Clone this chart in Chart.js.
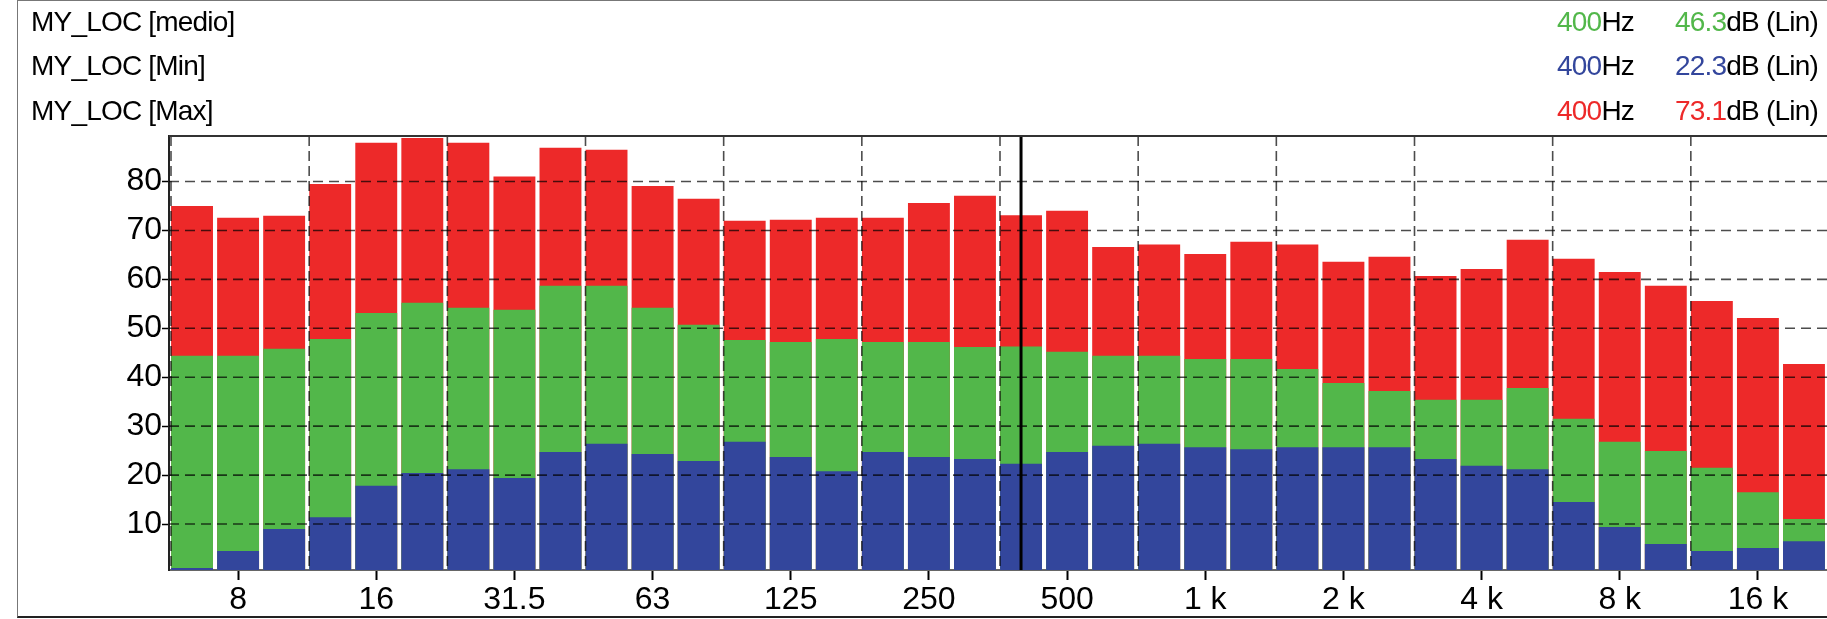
<!DOCTYPE html>
<html>
<head>
<meta charset="utf-8">
<script src="https://cdn.jsdelivr.net/npm/chart.js@4.4.1/dist/chart.umd.min.js"></script>
<style>
  html, body { margin: 0; padding: 0; background: #fff; }
  #wrap { position: relative; width: 1827px; height: 619px; overflow: hidden; font-family: 'Liberation Sans', Arial, sans-serif; }
  #c { position: absolute; left: 0; top: 0; }
  #frame { position: absolute; left: 17px; top: 0; width: 1830px; height: 618px; border: 1px solid #777; border-bottom: 2px solid #222; box-sizing: border-box; pointer-events: none; }
  .row { position: absolute; height: 30px; line-height: 30px; font-size: 28px; letter-spacing: -0.8px; color: #000; white-space: nowrap; }
  .name { left: 31px; }
  .hz { right: 193px; text-align: right; }
  .db { left: 1675px; }
</style>
</head>
<body>
<div id="wrap">
  <canvas id="c" width="1827" height="619"></canvas>
  <div id="frame"></div>
  <div id="header"></div>
</div>
<script>
// 1/3-octave band centre frequencies
const freqs = ['6.3','8','10','12.5','16','20','25','31.5','40','50','63','80','100','125','160','200','250','315','400','500','630','800','1 k','1.25 k','1.6 k','2 k','2.5 k','3.15 k','4 k','5 k','6.3 k','8 k','10 k','12.5 k','16 k','20 k'];
// MY_LOC [Max] (dB)
const maxVals = [75.0,72.6,73.0,79.5,87.9,88.9,87.9,81.0,86.9,86.5,79.1,76.5,72.0,72.2,72.6,72.6,75.6,77.1,73.1,74.0,66.6,67.1,65.2,67.7,67.1,63.6,64.6,60.7,62.1,68.1,64.2,61.5,58.7,55.6,52.1,42.7];
// MY_LOC [medio] (dB)
const meanVals = [44.4,44.4,45.8,47.8,53.1,55.2,54.2,53.8,58.7,58.7,54.2,50.7,47.6,47.2,47.8,47.2,47.2,46.2,46.3,45.2,44.4,44.4,43.7,43.7,41.7,38.8,37.2,35.4,35.4,37.8,31.5,26.8,24.9,21.5,16.5,11.0];
// MY_LOC [Min] (dB)
const minVals = [1.0,4.5,9.0,11.4,17.8,20.4,21.2,19.4,24.7,26.4,24.3,22.9,26.8,23.7,20.8,24.7,23.7,23.3,22.3,24.7,26.0,26.4,25.7,25.3,25.7,25.7,25.7,23.3,21.9,21.2,14.5,9.4,5.9,4.5,5.1,6.5];
// y tick labels
const yTicks = [10,20,30,40,50,60,70,80];
// x tick labels shown (middle band of each octave)
const xTickLabels = ['8','16','31.5','63','125','250','500','1 k','2 k','4 k','8 k','16 k'];
// cursor position
const cursorFreq = '400';
const seriesNames = ['MY_LOC [medio]','MY_LOC [Min]','MY_LOC [Max]'];

const RED = 'rgb(237,41,41)', GREEN = 'rgb(82,183,74)', BLUE = 'rgb(51,70,156)';
const cursorIdx = freqs.indexOf(cursorFreq);

// header rows
const header = document.getElementById('header');
const rows = [
  [seriesNames[0], meanVals, GREEN],
  [seriesNames[1], minVals, BLUE],
  [seriesNames[2], maxVals, RED]
];
const rowTops = [7, 51, 96];
rows.forEach((r, i) => {
  const top = rowTops[i] + 'px';
  const n = document.createElement('div');
  n.className = 'row name'; n.style.top = top; n.textContent = r[0];
  header.appendChild(n);
  const hz = document.createElement('div');
  hz.className = 'row hz'; hz.style.top = top;
  hz.innerHTML = '<span style="color:' + r[2] + '">' + cursorFreq + '</span>Hz';
  header.appendChild(hz);
  const db = document.createElement('div');
  db.className = 'row db'; db.style.top = top;
  db.innerHTML = '<span style="color:' + r[2] + '">' + r[1][cursorIdx].toFixed(1) + '</span>dB (Lin)';
  header.appendChild(db);
});

const overlay = {
  id: 'overlay',
  afterDatasetsDraw(chart) {
    const ctx = chart.ctx, a = chart.chartArea;
    const xs = chart.scales.x, ys = chart.scales.y;
    ctx.save();
    ctx.beginPath(); ctx.rect(a.left, a.top, a.right - a.left, a.bottom - a.top); ctx.clip();
    ctx.strokeStyle = 'rgba(0,0,0,0.7)';
    ctx.lineWidth = 1.6;
    ctx.setLineDash([10, 6]);
    yTicks.forEach(v => {
      const y = ys.getPixelForValue(v);
      ctx.beginPath(); ctx.moveTo(a.left, y); ctx.lineTo(a.right, y); ctx.stroke();
    });
    const catW = (a.right - a.left) / freqs.length;
    ctx.setLineDash([10, 5]);
    for (let k = 0; k <= freqs.length; k += 3) {
      const x = a.left + 2 + k * catW;
      ctx.beginPath(); ctx.moveTo(x, a.top); ctx.lineTo(x, a.bottom); ctx.stroke();
    }
    ctx.setLineDash([]);
    // cursor
    const cx = xs.getPixelForValue(cursorIdx);
    ctx.strokeStyle = '#000'; ctx.lineWidth = 3;
    ctx.beginPath(); ctx.moveTo(cx, a.top); ctx.lineTo(cx, a.bottom); ctx.stroke();
    ctx.restore();
    // top border of plot
    ctx.save();
    ctx.strokeStyle = '#333'; ctx.lineWidth = 2;
    ctx.beginPath(); ctx.moveTo(a.left, a.top); ctx.lineTo(a.right, a.top); ctx.stroke();
    ctx.restore();
  }
};

const tickFont = { family: "'Liberation Sans', Arial, sans-serif", size: 32 };

new Chart(document.getElementById('c'), {
  type: 'bar',
  data: {
    labels: freqs,
    datasets: [
      { label: seriesNames[1], data: minVals, backgroundColor: BLUE },
      { label: seriesNames[0], data: meanVals, backgroundColor: GREEN },
      { label: seriesNames[2], data: maxVals, backgroundColor: RED }
    ]
  },
  options: {
    responsive: false,
    animation: false,
    devicePixelRatio: 1,
    layout: { padding: { top: 136, left: 0, right: 0, bottom: 0 } },
    datasets: { bar: { grouped: false, barPercentage: 0.91, categoryPercentage: 1.0, borderWidth: 0 } },
    plugins: { legend: { display: false }, tooltip: { enabled: false } },
    scales: {
      x: {
        type: 'category',
        offset: true,
        grid: { display: true, drawOnChartArea: false, drawTicks: true, tickLength: 10, tickWidth: 2, tickColor: '#000', offset: false },
        border: { display: true, color: '#666', width: 2 },
        ticks: { font: tickFont, color: '#000', padding: 1, maxRotation: 0, autoSkip: false },
        afterBuildTicks(s) { s.ticks = s.ticks.filter(t => xTickLabels.includes(freqs[t.value])); },
        afterFit(s) { s.height = 49; }
      },
      y: {
        min: 0.6,
        max: 89.3,
        grid: { display: true, drawOnChartArea: false, drawTicks: true, tickLength: 7, tickWidth: 1.5, tickColor: '#000' },
        border: { display: true, color: '#222', width: 2 },
        ticks: { font: tickFont, color: '#000', padding: 0 },
        afterBuildTicks(s) { s.ticks = yTicks.map(v => ({ value: v })); },
        afterFit(s) { s.width = 169; }
      }
    }
  },
  plugins: [overlay]
});
</script>
</body>
</html>
